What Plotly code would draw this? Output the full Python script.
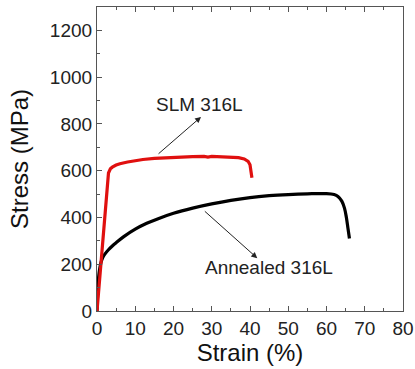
import plotly.graph_objects as go

# SLM 316L stress-strain curve (strain %, stress MPa)
slm_strain = [0.0, 0.5, 1.0, 1.5, 2.0, 2.5, 3.0, 3.5, 4.0, 5.0, 6.0, 8.0, 10.0, 12.0, 15.0, 18.0, 20.0, 22.0, 25.0,
              28.0, 29.0, 30.0, 32.0, 35.0, 37.0, 38.5, 39.5, 40.0, 40.3, 40.5]
slm_stress = [0, 100, 200, 300, 400, 500, 590, 608, 615, 624, 630, 637, 643, 648, 653, 656, 658, 659, 660,
              661, 658, 661, 660, 659, 656, 650, 640, 625, 600, 570]

# Annealed 316L stress-strain curve
ann_strain = [0.0, 0.3, 0.6, 1.0, 1.5, 2.0, 3.0, 4.0, 5.0, 7.0, 10.0, 13.0, 16.0, 20.0, 25.0, 30.0, 35.0, 40.0,
              45.0, 50.0, 55.0, 60.0, 62.0, 63.0, 64.0, 64.7, 65.2, 65.6, 66.0]
ann_stress = [0, 120, 170, 205, 228, 242, 262, 278, 292, 318, 350, 375, 395, 418, 440, 458, 473, 485,
              493, 498, 501, 502, 498, 490, 470, 440, 400, 355, 310]

x_range = [0, 80]
y_range = [0, 1300]
x_ticks = [0, 10, 20, 30, 40, 50, 60, 70, 80]
y_ticks = [0, 200, 400, 600, 800, 1000, 1200]

labels = ["SLM 316L", "Annealed 316L"]
label_pos = [(26.8, 885), (45.0, 185)]
arrow_tail = [(15.7, 667), (27.8, 432)]
arrow_head = [(27.2, 830), (41.9, 226)]

FONT = "Liberation Sans, Arial, sans-serif"

fig = go.Figure()
fig.add_trace(go.Scatter(x=ann_strain, y=ann_stress, mode="lines",
                         line=dict(color="#000000", width=3.2), line_shape="spline", name=labels[1]))
fig.add_trace(go.Scatter(x=slm_strain, y=slm_stress, mode="lines",
                         line=dict(color="#e0100f", width=3.2), name=labels[0]))

for lab, (lx, ly), (tx, ty), (hx, hy) in zip(labels, label_pos, arrow_tail, arrow_head):
    fig.add_annotation(x=hx, y=hy, ax=tx, ay=ty, xref="x", yref="y", axref="x", ayref="y",
                       text="", showarrow=True, arrowhead=2, arrowsize=1.2, arrowwidth=1,
                       arrowcolor="#222222")
    fig.add_annotation(x=lx, y=ly, xref="x", yref="y", text=lab, showarrow=False,
                       font=dict(family=FONT, size=19, color="#222222"))

axis_common = dict(showgrid=False, zeroline=False, showline=True, linecolor="#555555", linewidth=1.2,
                   ticks="inside", ticklen=5, tickwidth=1.2, tickcolor="#555555", automargin=False,
                   tickfont=dict(family=FONT, size=19, color="#222222"))

fig.update_xaxes(range=x_range, tickvals=x_ticks, mirror="ticks",
                 minor=dict(ticks="inside", ticklen=3, tickwidth=1.2, tickcolor="#555555", dtick=5),
                 title=dict(text="Strain (%)", font=dict(family=FONT, size=24, color="#111111"), standoff=6),
                 **axis_common)
fig.update_yaxes(range=y_range, tickvals=y_ticks, mirror=True,
                 minor=dict(ticks="inside", ticklen=3, tickwidth=1.2, tickcolor="#555555", dtick=100),
                 title=dict(text="Stress (MPa)", font=dict(family=FONT, size=24, color="#111111"), standoff=14),
                 **axis_common)

fig.update_layout(width=415, height=369, margin=dict(l=97, r=12, t=7, b=58),
                  plot_bgcolor="white", paper_bgcolor="white", showlegend=False)

# remove the browser's default 8 px body margin so the figure fills the window exactly
fig.write_html("out.html", config={"displayModeBar": False},
               post_script="document.body.style.margin='0';document.body.style.overflow='hidden';")
